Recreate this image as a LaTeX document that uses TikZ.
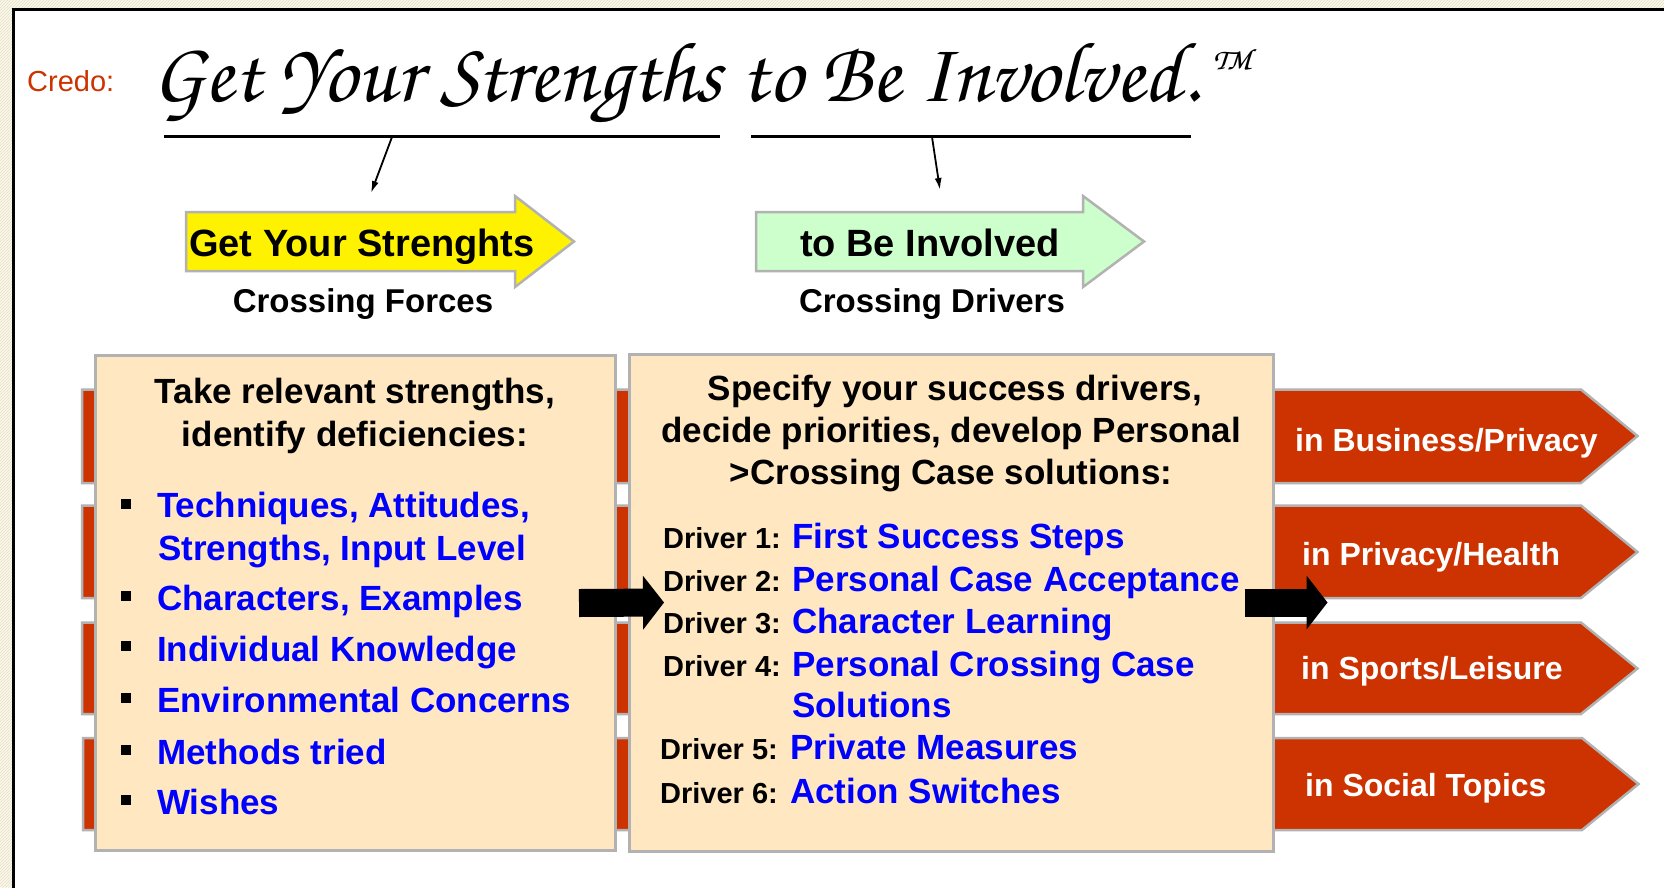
\documentclass[tikz,border=0pt]{standalone}
\usepackage{fontspec}
\setmainfont{Liberation Sans}
\newfontfamily\chorus{texgyrechorus-mediumitalic.otf}
\usetikzlibrary{arrows.meta,patterns}
\definecolor{crossred}{RGB}{204,51,0}
\definecolor{beige}{RGB}{255,232,193}
\definecolor{edgegray}{RGB}{178,178,178}
\definecolor{mint}{RGB}{204,255,204}
\definecolor{itemblue}{RGB}{0,0,255}
\definecolor{hatchbg}{RGB}{250,248,236}
\definecolor{hatch}{RGB}{228,224,196}
\def \shaft {28pt}
\tikzstyle{frame} = [line width=3pt,black]
\tikzstyle{panel} = [draw=edgegray,line width=3pt,fill=beige,rectangle,inner sep=0]
\tikzstyle{band} = [draw=edgegray,line width=2.5pt,fill=crossred]
\tikzstyle{flag} = [draw=edgegray,line width=2.5pt]
\tikzstyle{credoline} = [line width=3pt]
\tikzstyle{pointer} = [line width=1.8pt,-{Latex[length=12pt,width=7pt]}]
\tikzstyle{blockarrow} = [line width=\shaft,-{Triangle[length=21pt,width=54pt,line width=0pt]}]
\tikzstyle{sq} = [fill=black,rectangle,minimum size=10pt,inner sep=0]
\tikzstyle{heading} = [anchor=base,inner sep=0,font=\fontsize{35}{42}\selectfont\bfseries]
\tikzstyle{entry} = [anchor=base west,inner sep=0,text=itemblue,font=\fontsize{35}{42}\selectfont\bfseries]
\tikzstyle{driver} = [anchor=base west,inner sep=0,font=\fontsize{29}{34}\selectfont\bfseries]
\tikzstyle{topic} = [anchor=base west,inner sep=0,text=white,font=\fontsize{32}{38}\selectfont\bfseries]
\tikzstyle{flagtext} = [anchor=base,inner sep=0,font=\fontsize{38}{45}\selectfont\bfseries]
\tikzstyle{subtitle} = [anchor=base,inner sep=0,font=\fontsize{33}{40}\selectfont\bfseries]

\begin{document}
\begin{tikzpicture}[x=1pt,y=-1pt]
  \clip (0,0) rectangle (1664,887);
  % slide background and frame
  \fill[hatchbg] (0,0) rectangle (1664,887);
  \fill[pattern=north east lines,pattern color=hatch] (0,0) rectangle (1664,887);
  \fill[white] (13.5,9.5) rectangle (1700,900);
  \draw[frame] (13.5,900) -- (13.5,9.5) -- (1700,9.5);

  % credo
  \node[anchor=base west,inner sep=0,text=crossred,font=\fontsize{29}{35}\selectfont] (credo) at (27,91) {Credo:};
  \node[anchor=base west,inner sep=0] (motto) at (152,101) {\resizebox{1047pt}{58pt}{\chorus Get Your Strengths to Be Involved.}};
  \node[anchor=base west,inner sep=0] (tm) at (1208,80) {\resizebox{56pt}{!}{\chorus ™}};
  \draw[credoline] (164,136) -- (720,136);
  \draw[credoline] (751,136) -- (1191,136);
  \coordinate (u1) at (392,137);
  \coordinate (u2) at (932,137);
  \coordinate (a1) at (371,193);
  \coordinate (a2) at (940,190);
  \draw[pointer] (u1) -- (a1);
  \draw[pointer] (u2) -- (a2);

  % the two flags
  \draw[flag,fill=yellow] (186,212) -- (515,212) -- (515,196) -- (574,241.5) -- (515,287) -- (515,271) -- (186,271) -- cycle;
  \draw[flag,fill=mint] (756,212) -- (1083,212) -- (1083,196) -- (1144,241.5) -- (1083,287) -- (1083,271) -- (756,271) -- cycle;
  \node[flagtext] (getyour) at (362,256) {Get Your Strenghts};
  \node[flagtext] (involved) at (930,256) {to Be Involved};
  \node[subtitle] (forcescap) at (363,312) {Crossing Forces};
  \node[subtitle] (driverscap) at (932,312) {Crossing Drivers};

  % red bands behind the boxes
  \draw[band] (82,389.5) -- (1581,389.5) -- (1637.5,436) -- (1581,483) -- (82,483) -- cycle;
  \draw[band] (82,505.5) -- (1581,505.5) -- (1637.5,552) -- (1581,598) -- (82,598) -- cycle;
  \draw[band] (82,622.5) -- (1581,622.5) -- (1637.5,668.5) -- (1581,714) -- (82,714) -- cycle;
  \draw[band] (83,738) -- (1582,738) -- (1638.5,784) -- (1582,830) -- (83,830) -- cycle;

  \node[panel,minimum width=520pt,minimum height=495pt] (strengthbox) at (355,603) {};
  \node[panel,minimum width=644pt,minimum height=497pt] (driverbox) at (951,602.5) {};

  % left box
  \node[heading] (take) at (355,403) {Take relevant strengths,};
  \node[heading] (identify) at (355,446) {identify deficiencies:};
  \node[sq] (b1) at (126,504) {};
  \node[sq] (b2) at (126,596) {};
  \node[sq] (b3) at (126,646) {};
  \node[sq] (b4) at (126,698) {};
  \node[sq] (b5) at (126,749.5) {};
  \node[sq] (b6) at (126,799.5) {};
  \node[entry] (e1) at (157,517.5) {Techniques, Attitudes,};
  \node[entry] (e1b) at (158,560) {Strengths, Input Level};
  \node[entry] (e2) at (157,610) {Characters, Examples};
  \node[entry] (e3) at (157,661) {Individual Knowledge};
  \node[entry] (e4) at (157,712) {Environmental Concerns};
  \node[entry] (e5) at (157,764) {Methods tried};
  \node[entry] (e6) at (157,814) {Wishes};

  % middle box
  \node[heading] (specify) at (955,400) {Specify your success drivers,};
  \node[heading] (decide) at (951,442) {decide priorities, develop Personal};
  \node[heading] (crosscase) at (951,484) {>Crossing Case solutions:};
  \node[driver] (d1) at (663,548.5) {Driver 1:};
  \node[entry] (s1) at (792,548.5) {First Success Steps};
  \node[driver] (d2) at (663,591) {Driver 2:};
  \node[entry] (s2) at (792,591) {Personal Case Acceptance};
  \node[driver] (d3) at (663,633.5) {Driver 3:};
  \node[entry] (s3) at (792,633.5) {Character Learning};
  \node[driver] (d4) at (663,676) {Driver 4:};
  \node[entry] (s4) at (792,676) {Personal Crossing Case};
  \node[entry] (s4b) at (792,717.5) {Solutions};
  \node[driver] (d5) at (660,759.5) {Driver 5:};
  \node[entry] (s5) at (790,759.5) {Private Measures};
  \node[driver] (d6) at (660,803) {Driver 6:};
  \node[entry] (s6) at (790,803) {Action Switches};

  % fields
  \node[topic] (business) at (1295,451) {in Business/Privacy};
  \node[topic] (health) at (1302,565) {in Privacy/Health};
  \node[topic] (leisure) at (1301,679) {in Sports/Leisure};
  \node[topic] (social) at (1305,796) {in Social Topics};

  \draw[blockarrow] ([xshift=-37.5pt]strengthbox.east) -- ([xshift=36.5pt]driverbox.west);
  \draw[blockarrow] ([xshift=-30pt]driverbox.east) -- ([xshift=53pt]driverbox.east);
\end{tikzpicture}
\end{document}
